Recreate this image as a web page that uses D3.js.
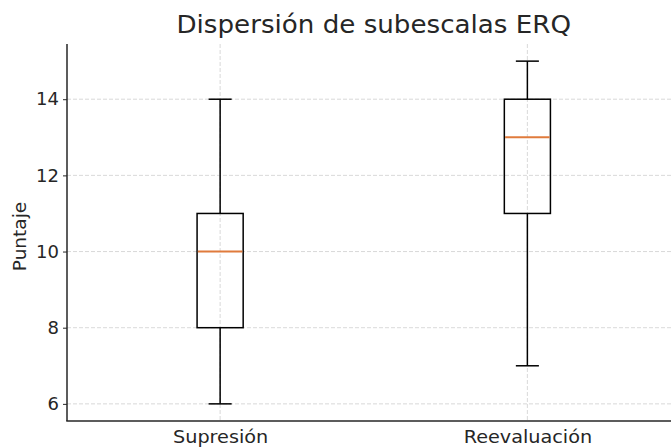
<!DOCTYPE html>
<html lang="es">
<head>
<meta charset="utf-8">
<script src="https://d3js.org/d3.v7.min.js"></script>
<style>
  body { margin: 0; background: #fff; }
  svg text { font-family: "DejaVu Sans", sans-serif; fill: #262626; }
</style>
</head>
<body>
<div id="vis"></div>
<script>
// box plot values
const categories = ['Supresión', 'Reevaluación'];
const whiskerLow = [6, 7];
const q1 = [8, 11];
const medians = [10, 13];
const q3 = [11, 14];
const whiskerHigh = [14, 15];
const yTicks = [6, 8, 10, 12, 14];

const width = 671, height = 448;
const margin = { top: 44, right: -10, bottom: 27, left: 67 };

const svg = d3.select('#vis').append('svg')
  .attr('width', width)
  .attr('height', height);

// positions 1..n like matplotlib, with 0.5 padding at each side
const x = d3.scaleLinear()
  .domain([0.5, categories.length + 0.5])
  .range([margin.left - 0.5, width - margin.right]);

const lo = d3.min(whiskerLow), hi = d3.max(whiskerHigh);
const pad = (hi - lo) * 0.05;
const y = d3.scaleLinear()
  .domain([lo - pad, hi + pad])
  .range([height - margin.bottom, margin.top]);

const boxW = (x(1.15) - x(1));   // widths = 0.15
const capW = boxW / 2;

// grid
const grid = svg.append('g');
grid.selectAll('.gy').data(yTicks).enter().append('line')
  .attr('x1', margin.left).attr('x2', width)
  .attr('y1', d => y(d)).attr('y2', d => y(d))
  .attr('stroke', '#cfcfcf').attr('stroke-width', 0.8).attr('stroke-dasharray', '4,2');
grid.selectAll('.gx').data(categories).enter().append('line')
  .attr('x1', (d, i) => x(i + 1)).attr('x2', (d, i) => x(i + 1))
  .attr('y1', margin.top).attr('y2', height - margin.bottom)
  .attr('stroke', '#cfcfcf').attr('stroke-width', 0.8).attr('stroke-dasharray', '4,2');

// y axis
const yAxis = svg.append('g')
  .attr('transform', `translate(${margin.left},0)`)
  .call(d3.axisLeft(y).tickValues(yTicks).tickSize(4).tickPadding(4).tickFormat(d3.format('d')));
yAxis.select('.domain').remove();
yAxis.selectAll('line').attr('stroke', '#262626').attr('stroke-width', 1);
yAxis.selectAll('text').style('font-size', '18px').style('fill', '#262626');

// x axis labels (text in the picture is a bit wider than the font)
const xAxis = svg.append('g')
  .attr('transform', `translate(0,${height - margin.bottom})`)
  .call(d3.axisBottom(x).tickValues(d3.range(1, categories.length + 1)).tickSize(0).tickPadding(10)
    .tickFormat(d => categories[d - 1]));
xAxis.select('.domain').remove();
xAxis.selectAll('text').style('font-size', '17.5px').style('fill', '#262626')
  .attr('transform', 'scale(1.1,1)');

// spines
svg.append('line')
  .attr('x1', margin.left).attr('x2', margin.left)
  .attr('y1', margin.top).attr('y2', height - margin.bottom)
  .attr('stroke', '#262626').attr('stroke-width', 1.5);
svg.append('line')
  .attr('x1', margin.left - 0.75).attr('x2', width)
  .attr('y1', height - margin.bottom).attr('y2', height - margin.bottom)
  .attr('stroke', '#262626').attr('stroke-width', 1.5);

// boxes
const boxes = svg.selectAll('.box').data(categories).enter().append('g');
const line = (g, x1, x2, y1, y2, color, w) => g.append('line')
  .attr('x1', x1).attr('x2', x2).attr('y1', y1).attr('y2', y2)
  .attr('stroke', color || '#000').attr('stroke-width', w || 1.5);

boxes.each(function(d, i) {
  const g = d3.select(this);
  const cx = x(i + 1);
  line(g, cx, cx, y(whiskerLow[i]), y(q1[i]));
  line(g, cx, cx, y(q3[i]), y(whiskerHigh[i]));
  line(g, cx - capW / 2, cx + capW / 2, y(whiskerLow[i]), y(whiskerLow[i]));
  line(g, cx - capW / 2, cx + capW / 2, y(whiskerHigh[i]), y(whiskerHigh[i]));
  g.append('rect')
    .attr('x', cx - boxW / 2).attr('width', boxW)
    .attr('y', y(q3[i])).attr('height', y(q1[i]) - y(q3[i]))
    .attr('fill', 'none').attr('stroke', '#000').attr('stroke-width', 1.5);
  line(g, cx - boxW / 2 + 0.75, cx + boxW / 2 - 0.75, y(medians[i]), y(medians[i]), '#e07b3c', 2);
});

// title and y label
svg.append('text')
  .attr('transform', `translate(${(x(0.5) + x(categories.length + 0.5)) / 2},32.5) scale(1.09,1)`)
  .attr('text-anchor', 'middle')
  .style('font-size', '24px')
  .text('Dispersión de subescalas ERQ');

svg.append('text')
  .attr('transform', `translate(26,${(margin.top + height - margin.bottom) / 2 + 4}) rotate(-90)`)
  .attr('text-anchor', 'middle')
  .style('font-size', '18.5px')
  .text('Puntaje');
</script>
</body>
</html>
